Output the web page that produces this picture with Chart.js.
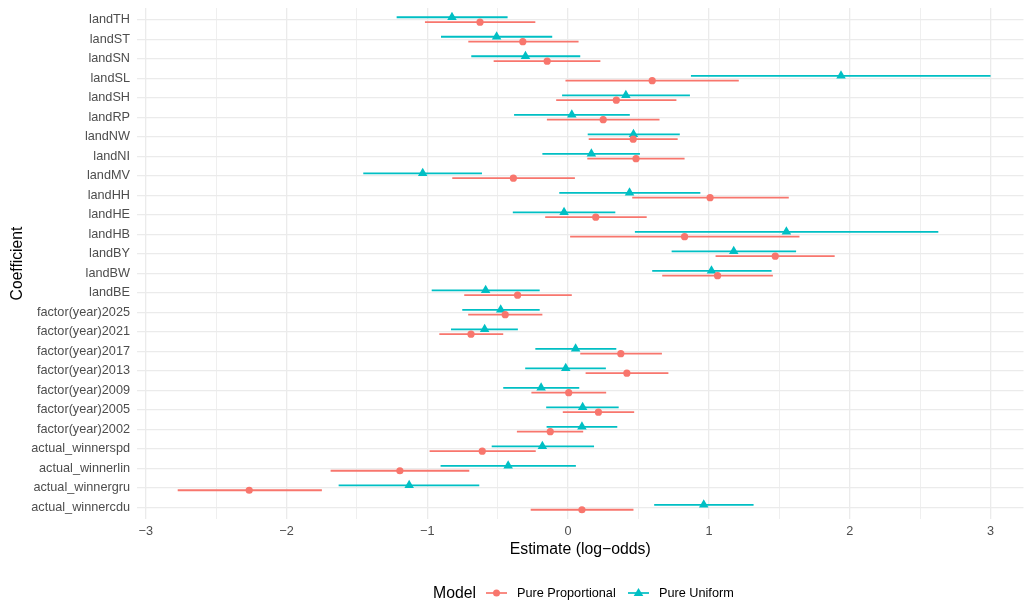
<!DOCTYPE html>
<html>
<head>
<meta charset="utf-8">
<script src="https://cdn.jsdelivr.net/npm/chart.js@4.4.1/dist/chart.umd.min.js"></script>
<style>
  html, body { margin: 0; padding: 0; background: #fff; }
  #wrap { position: relative; width: 1029px; height: 605px; font-family: "Liberation Sans", Arial, sans-serif; }
  #chart { position: absolute; left: 0; top: 0; }
  .lg { position: absolute; top: 584px; height: 18px; line-height: 18px; color: #000; white-space: nowrap; }
  .lg.txt { font-size: 12.7px; }
  .lg.title { font-size: 15.8px; }
  .lg svg { display: block; }
</style>
</head>
<body>
<div id="wrap">
  <canvas id="chart" width="1029" height="605"></canvas>
  <div class="lg title" style="left:433px">Model</div>
  <div class="lg" style="left:486px"><svg width="21" height="18"><line x1="0" y1="9" x2="21" y2="9" stroke="#F8766D" stroke-width="1.7"/><circle cx="10.5" cy="9" r="3.5" fill="#F8766D"/></svg></div>
  <div class="lg txt" style="left:517px">Pure Proportional</div>
  <div class="lg" style="left:628px"><svg width="21" height="18"><line x1="0" y1="9" x2="21" y2="9" stroke="#00BFC4" stroke-width="1.7"/><polygon points="10.5,4 15.3,12 5.7,12" fill="#00BFC4"/></svg></div>
  <div class="lg txt" style="left:659px">Pure Uniform</div>
</div>
<script>
// coeficientes, de cima para baixo
const categories = ["landTH", "landST", "landSN", "landSL", "landSH", "landRP", "landNW", "landNI", "landMV",
  "landHH", "landHE", "landHB", "landBY", "landBW", "landBE", "factor(year)2025", "factor(year)2021",
  "factor(year)2017", "factor(year)2013", "factor(year)2009", "factor(year)2005", "factor(year)2002",
  "actual_winnerspd", "actual_winnerlin", "actual_winnergru", "actual_winnercdu"]

// Pure Proportional
const propEst = [-0.626, -0.322, -0.149, 0.597, 0.342, 0.249, 0.462, 0.482, -0.389, 1.008, 0.196, 0.827, 1.471,
  1.061, -0.359, -0.447, -0.690, 0.374, 0.417, 0.004, 0.215, -0.127, -0.610, -1.195, -2.265, 0.098]
const propLow = [-1.017, -0.709, -0.529, -0.019, -0.085, -0.151, 0.146, 0.136, -0.823, 0.455, -0.163, 0.014, 1.047,
  0.668, -0.738, -0.710, -0.915, 0.086, 0.124, -0.261, -0.038, -0.364, -0.984, -1.687, -2.773, -0.266]
const propHigh = [-0.233, 0.074, 0.229, 1.212, 0.769, 0.649, 0.778, 0.827, 0.048, 1.567, 0.558, 1.643, 1.893,
  1.454, 0.026, -0.183, -0.461, 0.666, 0.712, 0.270, 0.469, 0.107, -0.230, -0.702, -1.749, 0.464]

// Pure Uniform
const unifEst = [-0.825, -0.508, -0.303, 1.938, 0.410, 0.026, 0.464, 0.165, -1.033, 0.436, -0.029, 1.550, 1.176,
  1.018, -0.586, -0.479, -0.593, 0.053, -0.017, -0.192, 0.103, 0.098, -0.183, -0.426, -1.129, 0.963]
const unifLow = [-1.218, -0.903, -0.688, 0.872, -0.043, -0.384, 0.139, -0.183, -1.455, -0.063, -0.393, 0.474, 0.735,
  0.597, -0.969, -0.752, -0.832, -0.233, -0.305, -0.461, -0.156, -0.153, -0.543, -0.906, -1.630, 0.611]
const unifHigh = [-0.430, -0.113, 0.086, 3.000, 0.865, 0.438, 0.793, 0.510, -0.612, 0.939, 0.335, 2.629, 1.619,
  1.445, -0.202, -0.202, -0.357, 0.342, 0.268, 0.079, 0.359, 0.349, 0.184, 0.055, -0.631, 1.317]

const majorTicks = [-3, -2, -1, 0, 1, 2, 3]
const minorTicks = [-2.5, -1.5, -0.5, 0.5, 1.5, 2.5]

const RED = "#F8766D"
const TEAL = "#00BFC4"
const dodge = 0.125

// segmentos horizontais separados por pontos nulos
const errorBars = (low, high, off) => {
  const pts = []
  categories.forEach((c, i) => {
    pts.push({ x: low[i], y: i + off }, { x: high[i], y: i + off }, { x: null, y: null })
  })
  return pts
}
const points = (est, off) => est.map((v, i) => ({ x: v, y: i + off }))

const fmt = (v) => (v < 0 ? "\u2212" + Math.abs(v) : String(v))

new Chart(document.getElementById("chart"), {
  type: "scatter",
  data: {
    datasets: [
      { label: "Pure Proportional CI", data: errorBars(propLow, propHigh, dodge), showLine: true, spanGaps: false,
        borderColor: RED, borderWidth: 1.8, pointRadius: 0, order: 2 },
      { label: "Pure Uniform CI", data: errorBars(unifLow, unifHigh, -dodge), showLine: true, spanGaps: false,
        borderColor: TEAL, borderWidth: 1.8, pointRadius: 0, order: 2 },
      { label: "Pure Proportional", data: points(propEst, dodge), pointStyle: "circle", pointRadius: 3.6,
        backgroundColor: RED, borderWidth: 0, order: 1 },
      { label: "Pure Uniform", data: points(unifEst, -dodge), pointStyle: "triangle", pointRadius: 5.5,
        backgroundColor: TEAL, borderWidth: 0, order: 1 },
    ],
  },
  options: {
    responsive: false,
    animation: false,
    layout: { padding: { left: 0, top: 8, right: 5.5, bottom: 46 } },
    plugins: { legend: { display: false }, tooltip: { enabled: false } },
    scales: {
      x: {
        type: "linear",
        min: -3.062,
        max: 3.234,
        afterBuildTicks: (axis) => {
          axis.ticks = majorTicks.concat(minorTicks).sort((a, b) => a - b).map((v) => ({ value: v }))
        },
        afterFit: (scale) => {
          scale.height = 40
          scale.paddingLeft = 0
          scale.paddingRight = 0
        },
        border: { display: false },
        grid: {
          drawTicks: false,
          color: "#EBEBEB",
          lineWidth: (ctx) => (Number.isInteger(ctx.tick.value) ? 1.3 : 0.8),
        },
        ticks: {
          autoSkip: false,
          maxRotation: 0,
          padding: 5,
          color: "#4D4D4D",
          font: { family: "Liberation Sans", size: 12.7 },
          callback: (v) => (majorTicks.includes(v) ? fmt(v) : ""),
        },
        title: {
          display: true,
          text: "Estimate (log\u2212odds)",
          color: "#000",
          font: { family: "Liberation Sans", size: 15.8 },
          padding: { top: 0, bottom: 0 },
        },
      },
      y: {
        type: "linear",
        reverse: true,
        min: -0.6,
        max: 25.6,
        afterBuildTicks: (axis) => {
          axis.ticks = categories.map((c, i) => ({ value: i }))
        },
        afterFit: (scale) => {
          scale.width = 137
          scale.paddingTop = 0
          scale.paddingBottom = 0
        },
        border: { display: false },
        grid: { drawTicks: false, color: "#EBEBEB", lineWidth: 1.3 },
        ticks: {
          autoSkip: false,
          padding: 7,
          color: "#4D4D4D",
          font: { family: "Liberation Sans", size: 12.7 },
          callback: (v) => categories[v],
        },
        title: {
          display: true,
          text: "Coefficient",
          color: "#000",
          font: { family: "Liberation Sans", size: 15.7 },
          padding: { top: 8, bottom: 0 },
        },
      },
    },
  },
})
</script>
</body>
</html>
